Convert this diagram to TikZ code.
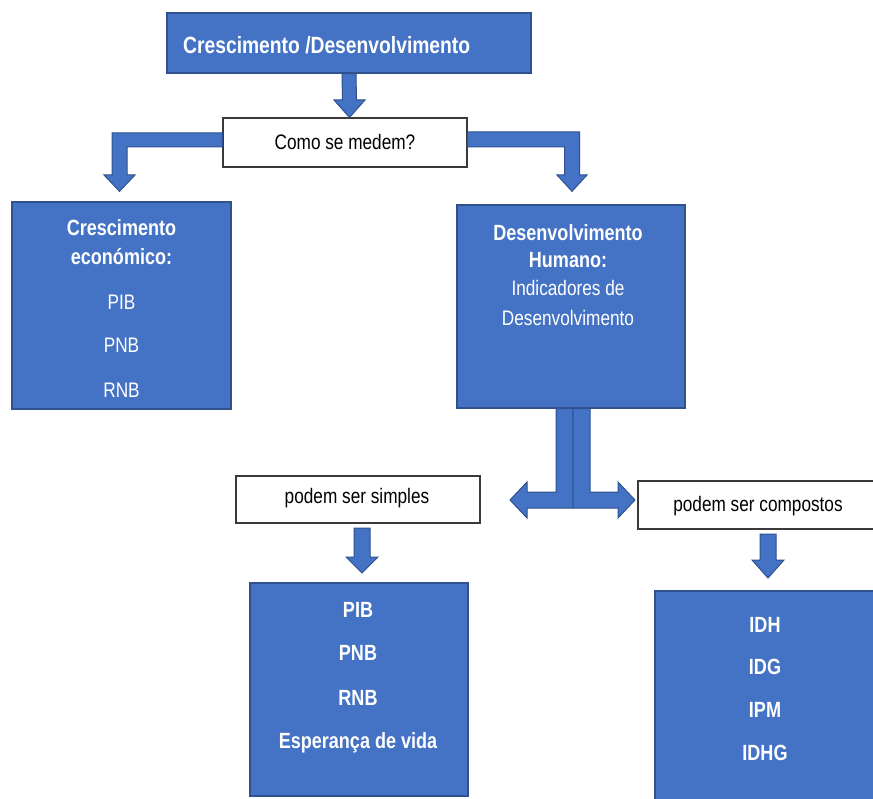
\documentclass[tikz,border=0pt]{standalone}
\usepackage{fontspec}
\setmainfont[FakeStretch=0.82]{Liberation Sans}
\usetikzlibrary{calc}
\definecolor{boxblue}{HTML}{4472C4}
\definecolor{edgeblue}{HTML}{2F528F}
\definecolor{edgegray}{HTML}{3A3A3A}
\begin{document}
\begin{tikzpicture}[x=1pt,y=-1pt,
  bluebox/.style={draw=edgeblue, line width=1.3pt, fill=boxblue, inner sep=0pt},
  whitebox/.style={draw=edgegray, line width=1.2pt, fill=white, inner sep=0pt},
  blockarrow/.style={draw=edgeblue, line width=1pt, fill=boxblue, line join=miter},
  wtxt/.style={text=white, inner sep=0pt, font=\fontsize{21}{25}\selectfont},
  wbold/.style={text=white, inner sep=0pt, font=\fontsize{22}{26}\selectfont\bfseries},
  btxt/.style={text=black, inner sep=0pt, font=\fontsize{21}{25}\selectfont}]
\fill[white] (0,0) rectangle (873,799);
\clip (0,0) rectangle (873,799);
\useasboundingbox (0,0) rectangle (873,799);

% boxes
\node[bluebox, minimum width=364pt, minimum height=60pt] (top) at (349,43) {};
\node[wbold, anchor=west, font=\fontsize{23.5}{28}\selectfont\bfseries] (toptxt) at (183,45) {Crescimento /Desenvolvimento};

\node[whitebox, minimum width=244pt, minimum height=49pt] (como) at (345,142.5) {};
\node[btxt] (comotxt) at (345,142) {Como se medem?};

\node[bluebox, minimum width=219pt, minimum height=207pt] (L) at (121.5,305.5) {};
\node[wbold] (L1) at (121.5,228) {Crescimento};
\node[wbold] (L2) at (121.5,257) {económico:};
\node[wtxt] (L3) at (121.5,302) {PIB};
\node[wtxt] (L4) at (121.5,345) {PNB};
\node[wtxt] (L5) at (121.5,390) {RNB};

\node[bluebox, minimum width=228pt, minimum height=203pt] (R) at (571,306.5) {};
\node[wbold] (R1) at (568,233) {Desenvolvimento};
\node[wbold] (R2) at (568,260) {Humano:};
\node[wtxt] (R3) at (568,288) {Indicadores de};
\node[wtxt] (R4) at (568,318) {Desenvolvimento};

\node[whitebox, minimum width=244pt, minimum height=47pt] (simp) at (358,499.5) {};
\node[btxt] (simptxt) at (357,498) {podem ser simples};

\node[whitebox, minimum width=252pt, minimum height=48pt] (comp) at (764,505) {};
\node[btxt] (comptxt) at (758,506) {podem ser compostos};

\node[bluebox, minimum width=218pt, minimum height=213pt] (BL) at (359,689.5) {};
\node[wbold] (BL1) at (358,610) {PIB};
\node[wbold] (BL2) at (358,653) {PNB};
\node[wbold] (BL3) at (358,698) {RNB};
\node[wbold] (BL4) at (358,743) {Esperança de vida};

\node[bluebox, minimum width=235pt, minimum height=219pt] (BR) at (772.5,700.5) {};
\node[wbold] (BR1) at (765,625) {IDH};
\node[wbold] (BR2) at (765,667) {IDG};
\node[wbold] (BR3) at (765,710) {IPM};
\node[wbold] (BR4) at (765,753) {IDHG};

% block arrows
% top -> como
\draw[blockarrow] ($(top.south)+(-7,0)$) -- ++(14,0) -- (356.5,100) -- (365,100)
  -- ($(como.north)+(4.5,0)$) -- (334,100) -- (342.5,100) -- cycle;
% como -> L
\draw[blockarrow] ($(como.west)+(0,-9.5)$) -- (112,133) -- (112,175) -- (104,175)
  -- ($(L.north)+(-2,-10)$) -- (135,175) -- (127,175) -- (127,147) -- ($(como.west)+(0,4.5)$) -- cycle;
% como -> R
\draw[blockarrow] ($(como.east)+(0,-10.5)$) -- (579.5,132) -- (579.5,175) -- (587,175)
  -- ($(R.north)+(1,-13)$) -- (557,175) -- (564.5,175) -- (564.5,147) -- ($(como.east)+(0,4.5)$) -- cycle;
% R -> simp (left T arm)
\draw[blockarrow] ($(R.south)+(-15,0)$) -- ($(R.south)+(2,0)$) -- (573,508) -- (527,508) -- (527,518)
  -- (510,500) -- (527,482) -- (527,492) -- (556,492) -- cycle;
% R -> comp (right T arm)
\draw[blockarrow] ($(R.south)+(2,0)$) -- ($(R.south)+(19,0)$) -- (590,492) -- (618,492) -- (618,482)
  -- (635,500) -- (618,518) -- (618,508) -- (573,508) -- cycle;
% simp -> BL
\draw[blockarrow] (354,528) -- (370,528) -- (370,557) -- (378,557)
  -- (362,573) -- (346,557) -- (354,557) -- cycle;
% comp -> BR
\draw[blockarrow] (760,534) -- (776,534) -- (776,560) -- (784,560)
  -- (768,578) -- (752,560) -- (760,560) -- cycle;
\end{tikzpicture}
\end{document}
